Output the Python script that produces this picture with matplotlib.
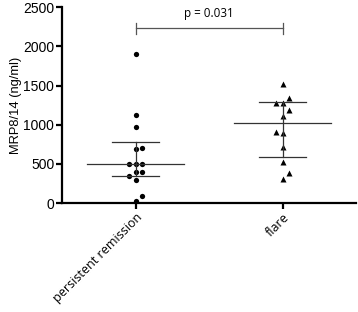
import matplotlib
matplotlib.use("Agg")
import matplotlib.pyplot as plt
import numpy as np

plt.rcParams['font.family'] = ['Liberation Sans', 'DejaVu Sans']

categories = ["persistent remission", "flare"]
remission_vals = [1900, 1130, 975, 700, 690, 500, 500, 500, 400, 400, 350, 300, 95, 30]
remission_off = [0, 0, 0, 1, 0, -1, 0, 1, 0, 1, -1, 0, 1, 0]
flare_vals = [1520, 1335, 1280, 1280, 1186, 1114, 906, 889, 714, 527, 378, 306]
flare_off = [0, 1, -1, 0, 1, 0, -1, 0, 0, 0, 1, 0]
medians = [500, 1020]
q1s = [340, 585]
q3s = [775, 1285]
yticks = [0, 500, 1000, 1500, 2000, 2500]
p_text = "p = 0.031"
bracket_y = 2230

fig = plt.figure(figsize=(3.58, 3.12), dpi=100)
ax = fig.add_axes([0.173, 0.349, 0.822, 0.628])

dx = 0.045
ax.plot(np.array(remission_off) * dx + 0, remission_vals, 'o', color='black', ms=3.8, mec='none')
ax.plot(np.array(flare_off) * dx + 1, flare_vals, '^', color='black', ms=4.0, mec='none')

lc = '#333333'
for i in range(2):
    ax.plot([i - 0.33, i + 0.33], [medians[i]] * 2, color=lc, lw=0.9)
    ax.plot([i - 0.16, i + 0.16], [q1s[i]] * 2, color=lc, lw=0.9)
    ax.plot([i - 0.16, i + 0.16], [q3s[i]] * 2, color=lc, lw=0.9)
    ax.plot([i, i], [q1s[i], q3s[i]], color=lc, lw=0.9)

# significance bracket
ax.plot([0, 1], [bracket_y] * 2, color='#555555', lw=0.9)
ax.plot([0, 0], [bracket_y - 70, bracket_y + 70], color='#555555', lw=0.9)
ax.plot([1, 1], [bracket_y - 70, bracket_y + 70], color='#555555', lw=0.9)
ax.text(0.5, bracket_y + 110, p_text, ha='center', va='bottom', fontsize=8.4,
        family=['Open Sans', 'DejaVu Sans'])

ax.set_xlim(-0.5, 1.5)
ax.set_ylim(0, 2500)
ax.set_yticks(yticks)
ax.set_yticklabels([str(v) for v in yticks], fontsize=10)
ax.set_xticks([0, 1])
ax.set_xticklabels(categories, rotation=45, ha='right', rotation_mode='anchor', fontsize=9,
                   family=['Open Sans', 'DejaVu Sans'])
ax.set_ylabel("MRP8/14 (ng/ml)", fontsize=9.3, labelpad=1)

for s in ['top', 'right']:
    ax.spines[s].set_visible(False)
for s in ['left', 'bottom']:
    ax.spines[s].set_linewidth(1.6)
ax.tick_params(axis='both', width=1.6, length=4, pad=1.5)

fig.savefig("out.png", dpi=100)
